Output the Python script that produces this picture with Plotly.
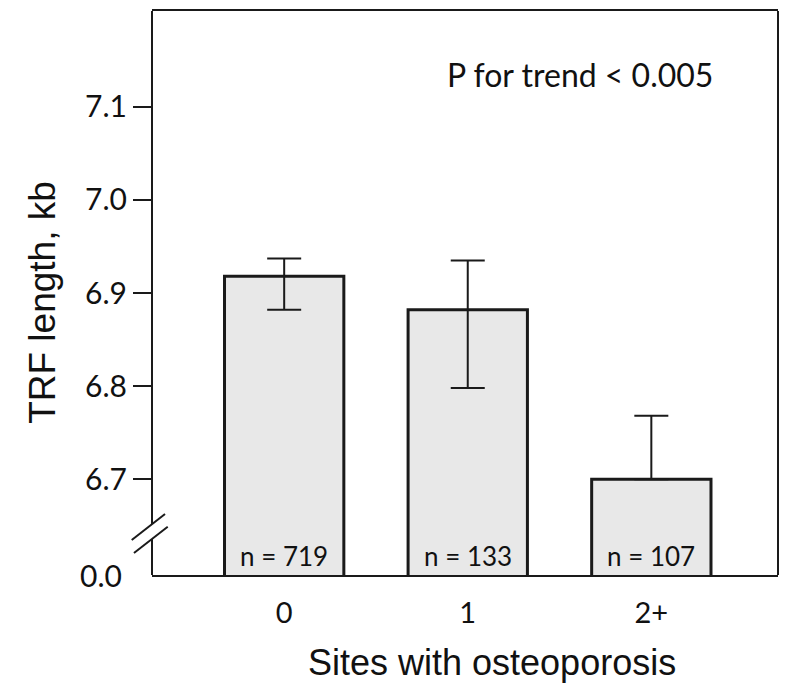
import plotly.graph_objects as go

# Mean TRF length (kb) by number of skeletal sites with osteoporosis
categories = ["0", "1", "2+"]
means = [6.918, 6.882, 6.700]
err_upper = [0.019, 0.053, 0.068]
err_lower = [0.036, 0.084, 0.0]
n_counts = [719, 133, 107]

y_tick_vals = [6.7, 6.8, 6.9, 7.0, 7.1]
y_tick_text = ["6.7", "6.8", "6.9", "7.0", "7.1"]
y_break_label = "0.0"

# Broken axis: the bottom of the visible range stands for zero
Y_RANGE = [6.597, 7.203]
X_RANGE = [-0.72, 2.69]

NUM_FONT = "Lato, 'Open Sans', sans-serif"
TITLE_FONT = "'Liberation Sans', Arial, sans-serif"
LINE = "#1a1a1a"
TEXT = "#111111"

fig = go.Figure()

fig.add_trace(go.Bar(
    x=categories,
    y=means,
    width=0.65,
    marker=dict(color="#e8e8e8", line=dict(color=LINE, width=3)),
    error_y=dict(
        type="data",
        symmetric=False,
        array=err_upper,
        arrayminus=err_lower,
        color=LINE,
        thickness=2,
        width=17,
    ),
    showlegend=False,
))

shapes = []
line_style = dict(color=LINE, width=2)
# right frame edge
shapes.append(dict(type="line", xref="paper", yref="y",
                   x0=1, x1=1, y0=Y_RANGE[0], y1=Y_RANGE[1], line=line_style))
# left frame edge, interrupted at the axis break
shapes.append(dict(type="line", xref="paper", yref="y",
                   x0=0, x1=0, y0=6.6518, y1=Y_RANGE[1], line=line_style))
shapes.append(dict(type="line", xref="paper", yref="y",
                   x0=0, x1=0, y0=Y_RANGE[0], y1=6.6357, line=line_style))
# break marks
shapes.append(dict(type="line", xref="paper", yref="y",
                   x0=-0.0324, x1=0.0208, y0=6.6346, y1=6.6625, line=line_style))
shapes.append(dict(type="line", xref="paper", yref="y",
                   x0=-0.0288, x1=0.0251, y0=6.6207, y1=6.6489, line=line_style))

annotations = []
for cat, n in zip(categories, n_counts):
    annotations.append(dict(
        x=cat, y=6.6175, xref="x", yref="y",
        text=f"n = {n}", showarrow=False,
        font=dict(family=NUM_FONT, size=26, color=TEXT),
    ))

annotations.append(dict(
    x=-0.045, y=Y_RANGE[0], xref="paper", yref="y",
    text=y_break_label, showarrow=False, xanchor="right", yanchor="middle",
    font=dict(family=NUM_FONT, size=30, color=TEXT),
))

annotations.append(dict(
    x=0.683, y=0.888, xref="paper", yref="paper",
    text="P for trend < 0.005", showarrow=False,
    xanchor="center", yanchor="middle",
    font=dict(family=NUM_FONT, size=32, color=TEXT),
))

# axis titles
annotations.append(dict(
    x=0.543, y=-0.155, xref="paper", yref="paper",
    text="Sites with osteoporosis", showarrow=False,
    xanchor="center", yanchor="middle",
    font=dict(family=TITLE_FONT, size=36, color=TEXT),
))
annotations.append(dict(
    x=-0.176, y=0.484, xref="paper", yref="paper",
    text="TRF length, kb", showarrow=False, textangle=-90,
    xanchor="center", yanchor="middle",
    font=dict(family=TITLE_FONT, size=37, color=TEXT),
))

fig.update_layout(
    width=787, height=691,
    margin=dict(l=152, r=9, t=9, b=116),
    paper_bgcolor="white",
    plot_bgcolor="white",
    shapes=shapes,
    annotations=annotations,
    xaxis=dict(
        range=X_RANGE,
        showline=True, mirror=True, linecolor=LINE, linewidth=2,
        ticks="", showgrid=False, zeroline=False,
        tickfont=dict(family=NUM_FONT, size=29, color=TEXT),
        ticklabelstandoff=11,
    ),
    yaxis=dict(
        range=Y_RANGE,
        showline=False, showgrid=False, zeroline=False,
        tickvals=y_tick_vals, ticktext=y_tick_text,
        ticks="outside", ticklen=18, tickwidth=2, tickcolor=LINE,
        tickfont=dict(family=NUM_FONT, size=30, color=TEXT),
    ),
)

fig.write_html("out.html")
